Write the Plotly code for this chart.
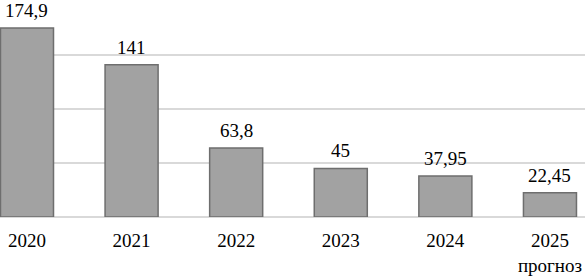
import plotly.graph_objects as go

categories = ["2020", "2021", "2022", "2023", "2024", "2025"]
tick_labels = ["2020", "2021", "2022", "2023", "2024", "2025<br>прогноз"]
values = [174.9, 141, 63.8, 45, 37.95, 22.45]
value_labels = ["174,9", "141", "63,8", "45", "37,95", "22,45"]

FONT = "Liberation Serif"

fig = go.Figure()
fig.add_trace(go.Bar(
    x=list(range(len(categories))),
    y=values,
    width=0.507,
    marker=dict(color="#a2a2a2", line=dict(color="#6e6e6e", width=1.5)),
    hoverinfo="skip",
))

for i, (v, t) in enumerate(zip(values, value_labels)):
    fig.add_annotation(x=i, y=v, text=t, showarrow=False, yanchor="bottom",
                       yshift=5, font=dict(family=FONT, size=19, color="#000"))

fig.update_layout(
    width=585, height=278,
    margin=dict(l=0, r=0, t=1, b=61, autoexpand=False),
    paper_bgcolor="white", plot_bgcolor="white",
    showlegend=False,
    font=dict(family=FONT, size=19, color="#000"),
)
fig.update_xaxes(
    range=[-0.258, 5.335],
    tickmode="array",
    tickvals=list(range(len(categories))),
    ticktext=tick_labels,
    showgrid=False, zeroline=False, showline=False,
    ticks="", ticklen=0, automargin=False, ticklabelstandoff=10,
    tickfont=dict(family=FONT, size=19, color="#000"),
)
fig.update_yaxes(
    range=[0, 200],
    tickvals=[0, 50, 100, 150, 200],
    showticklabels=False, automargin=False,
    showgrid=True, gridcolor="#d9d9d9", gridwidth=1.5,
    zeroline=True, zerolinecolor="#d9d9d9", zerolinewidth=1.5,
    showline=False,
)

fig.write_html("out.html", config={"displayModeBar": False},
               post_script="document.body.style.margin='0';document.body.style.overflow='hidden';")
